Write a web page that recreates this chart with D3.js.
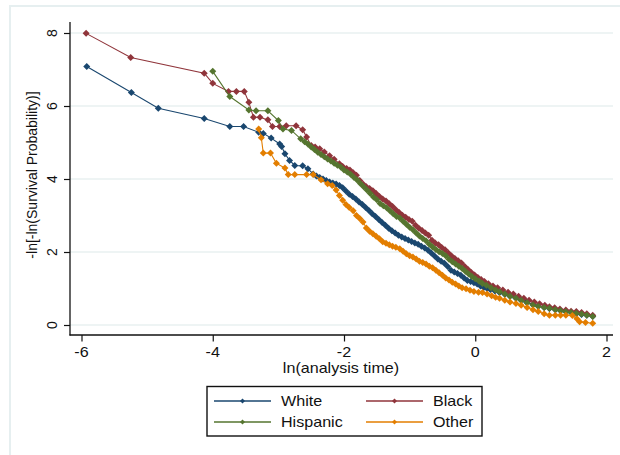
<!DOCTYPE html>
<html><head><meta charset="utf-8">
<script src="https://cdn.jsdelivr.net/npm/d3@7"></script>
<style>body{margin:0;background:#fff}svg{display:block}text{font-family:"Liberation Sans",Arial,sans-serif;fill:#111}</style>
</head><body><svg id="c" width="620" height="455"></svg>
<script>
const xTicks = [-6, -4, -2, 0, 2];
const yTicks = [0, 2, 4, 6, 8];
const xTitle = "ln(analysis time)";
const yTitle = "-ln[-ln(Survival Probability)]";
const seriesNames = ["White", "Black", "Hispanic", "Other"];

const white = [[-5.92,7.08],[-5.24,6.37],[-4.83,5.94],[-4.13,5.66],[-3.74,5.44],[-3.53,5.44],[-3.30,5.28],[-3.23,5.25],[-3.11,5.12],[-2.98,4.96],[-2.95,4.89],[-2.90,4.69],[-2.83,4.51],[-2.75,4.37],[-2.63,4.36],[-2.55,4.28],
[-2.47,4.14],[-2.42,4.08],[-2.37,4.04],[-2.32,4.00],[-2.27,3.96],[-2.22,3.92],[-2.17,3.89],[-2.12,3.86],[-2.07,3.82],[-2.02,3.76],[-1.97,3.67],[-1.92,3.58],[-1.87,3.52],[-1.82,3.45],[-1.77,3.37],[-1.72,3.30],[-1.67,3.22],[-1.62,3.14],[-1.57,3.05],[-1.52,2.97],[-1.47,2.89],[-1.42,2.81],[-1.37,2.73],[-1.32,2.65],[-1.27,2.58],[-1.22,2.52],[-1.17,2.46],[-1.12,2.41],[-1.07,2.37],[-1.02,2.33],[-0.97,2.29],[-0.92,2.25],[-0.87,2.21],[-0.82,2.16],[-0.77,2.11],[-0.72,2.05],[-0.67,1.97],[-0.62,1.89],[-0.57,1.81],[-0.52,1.75],[-0.47,1.69],[-0.42,1.60],[-0.37,1.50],[-0.32,1.45],[-0.27,1.41],[-0.22,1.36],[-0.17,1.29],[-0.12,1.22],[-0.07,1.19],[-0.02,1.16],[0.03,1.12],[0.08,1.07],[0.13,1.03],[0.18,1.00],[0.23,0.97],[0.30,0.93],[0.37,0.89],[0.45,0.84],[0.53,0.79],[0.62,0.73],[0.70,0.68],[0.78,0.63],[0.88,0.56],[0.96,0.52],[1.05,0.48],[1.13,0.45],[1.22,0.42],[1.30,0.39],[1.38,0.36],[1.46,0.34],[1.54,0.31],[1.62,0.29],[1.70,0.27],[1.79,0.24]];

const black = [[-5.93,7.99],[-5.25,7.33],[-4.13,6.90],[-4.00,6.62],[-3.76,6.40],[-3.64,6.40],[-3.52,6.40],[-3.45,6.10],[-3.38,5.69],[-3.28,5.69],[-3.16,5.62],[-3.09,5.44],[-2.98,5.44],[-2.88,5.46],[-2.73,5.46],[-2.63,5.35],
[-2.57,5.15],[-2.50,4.92],[-2.44,4.88],[-2.37,4.83],[-2.30,4.74],[-2.22,4.64],[-2.15,4.54],[-2.07,4.42],[-2.02,4.34],[-1.96,4.29],[-1.91,4.25],[-1.86,4.17],[-1.81,4.10],[-1.76,3.96],[-1.71,3.86],[-1.66,3.79],[-1.61,3.74],[-1.56,3.68],[-1.51,3.60],[-1.46,3.52],[-1.41,3.45],[-1.36,3.40],[-1.31,3.32],[-1.26,3.25],[-1.21,3.16],[-1.16,3.08],[-1.11,3.01],[-1.06,2.95],[-1.01,2.89],[-0.96,2.84],[-0.91,2.73],[-0.86,2.65],[-0.81,2.59],[-0.76,2.52],[-0.71,2.46],[-0.66,2.32],[-0.61,2.25],[-0.56,2.20],[-0.51,2.12],[-0.46,2.06],[-0.41,1.97],[-0.36,1.89],[-0.31,1.82],[-0.26,1.76],[-0.21,1.70],[-0.16,1.60],[-0.11,1.52],[-0.06,1.44],[-0.01,1.37],[0.04,1.30],[0.09,1.25],[0.14,1.19],[0.20,1.13],[0.27,1.07],[0.34,1.02],[0.42,0.96],[0.50,0.90],[0.58,0.85],[0.66,0.79],[0.74,0.73],[0.82,0.68],[0.90,0.63],[0.98,0.58],[1.06,0.54],[1.13,0.50],[1.21,0.47],[1.29,0.44],[1.38,0.41],[1.46,0.38],[1.54,0.37],[1.62,0.34],[1.70,0.31],[1.79,0.27]];

const hispanic = [[-4.00,6.95],[-3.74,6.26],[-3.45,5.89],[-3.34,5.87],[-3.16,5.87],[-3.00,5.60],[-2.93,5.37],[-2.80,5.33],
[-2.66,5.10],[-2.60,5.02],[-2.55,4.96],[-2.50,4.88],[-2.45,4.81],[-2.40,4.73],[-2.35,4.67],[-2.30,4.61],[-2.25,4.55],[-2.20,4.49],[-2.15,4.43],[-2.10,4.38],[-2.05,4.33],[-2.00,4.25],[-1.95,4.19],[-1.90,4.13],[-1.85,4.05],[-1.80,3.97],[-1.75,3.88],[-1.70,3.79],[-1.65,3.70],[-1.60,3.60],[-1.55,3.51],[-1.50,3.43],[-1.45,3.33],[-1.40,3.27],[-1.35,3.21],[-1.30,3.13],[-1.25,3.05],[-1.20,2.97],[-1.15,2.93],[-1.10,2.84],[-1.05,2.76],[-1.00,2.68],[-0.95,2.61],[-0.90,2.52],[-0.85,2.44],[-0.80,2.37],[-0.75,2.31],[-0.70,2.21],[-0.65,2.14],[-0.60,2.07],[-0.55,2.01],[-0.50,1.96],[-0.45,1.90],[-0.40,1.80],[-0.35,1.73],[-0.30,1.67],[-0.25,1.61],[-0.20,1.55],[-0.15,1.47],[-0.10,1.40],[-0.05,1.33],[0.00,1.27],[0.06,1.20],[0.11,1.14],[0.17,1.09],[0.24,1.02],[0.31,0.96],[0.37,0.91],[0.45,0.85],[0.53,0.79],[0.62,0.73],[0.70,0.67],[0.79,0.61],[0.88,0.55],[0.96,0.51],[1.05,0.48],[1.13,0.46],[1.22,0.42],[1.30,0.39],[1.38,0.36],[1.46,0.34],[1.54,0.32],[1.62,0.30],[1.70,0.27],[1.79,0.23]];

const other = [[-3.30,5.37],[-3.26,5.13],[-3.23,4.71],[-3.12,4.71],[-3.03,4.43],[-2.90,4.30],[-2.85,4.12],[-2.75,4.12],[-2.57,4.12],[-2.47,4.12],[-2.35,3.98],[-2.25,3.87],[-2.18,3.82],[-2.12,3.70],[-2.07,3.55],[-2.02,3.42],[-1.97,3.30],[-1.92,3.22],[-1.86,3.13],[-1.81,3.00],[-1.76,2.92],[-1.71,2.82],[-1.66,2.66],[-1.61,2.57],[-1.56,2.50],[-1.51,2.43],[-1.46,2.36],[-1.41,2.28],[-1.36,2.24],[-1.31,2.20],[-1.26,2.16],[-1.21,2.13],[-1.15,2.09],[-1.10,2.02],[-1.05,1.95],[-1.00,1.90],[-0.95,1.86],[-0.90,1.81],[-0.85,1.75],[-0.80,1.71],[-0.75,1.67],[-0.70,1.61],[-0.65,1.57],[-0.60,1.50],[-0.55,1.43],[-0.50,1.36],[-0.45,1.29],[-0.40,1.23],[-0.35,1.17],[-0.30,1.12],[-0.25,1.07],[-0.20,1.02],[-0.14,0.99],[-0.08,0.95],[-0.02,0.92],[0.05,0.90],[0.11,0.89],[0.18,0.85],[0.25,0.80],[0.31,0.76],[0.37,0.73],[0.45,0.68],[0.53,0.63],[0.62,0.59],[0.70,0.54],[0.79,0.48],[0.88,0.42],[0.96,0.37],[1.05,0.31],[1.13,0.27],[1.22,0.27],[1.30,0.27],[1.38,0.27],[1.48,0.26],[1.55,0.17],[1.59,0.09],[1.68,0.07],[1.79,0.05]];

const seriesData = [white, black, hispanic, other];
const colors = ["#1a476f", "#90353b", "#55752f", "#e37e00"];

const svg = d3.select("#c");
svg.append("rect").attr("x",0).attr("y",0).attr("width",620).attr("height",455).attr("fill","#fff");
svg.append("line").attr("x1",9).attr("x2",620).attr("y1",6).attr("y2",6).attr("stroke","#e6eff0").attr("stroke-width",2);
svg.append("line").attr("x1",10).attr("x2",10).attr("y1",5).attr("y2",455).attr("stroke","#e6eff0").attr("stroke-width",2);

const x = d3.scaleLinear().domain([-6, 2]).range([81.5, 606.5]);
const y = d3.scaleLinear().domain([0, 8]).range([325, 33]);
const pLeft = 70, pRight = 613, pTop = 22, pBottom = 335;
const SX = 1.15;

svg.append("g").selectAll("line").data(yTicks).join("line")
  .attr("x1", pLeft).attr("x2", pRight).attr("y1", d => y(d)).attr("y2", d => y(d))
  .attr("stroke", "#e8f0f1").attr("stroke-width", 1.5);

const yAxis = d3.axisLeft(y).tickValues(yTicks).tickSize(6).tickFormat("");
const gy = svg.append("g").attr("transform", `translate(${pLeft},0)`).call(yAxis);
gy.select(".domain").remove();
gy.selectAll(".tick line").attr("stroke", "#111").attr("stroke-width", 1.2);
svg.append("line").attr("x1", pLeft).attr("x2", pLeft).attr("y1", pTop).attr("y2", pBottom + 0.5).attr("stroke", "#111").attr("stroke-width", 1.3);

const xAxis = d3.axisBottom(x).tickValues(xTicks).tickSize(6.5).tickFormat("");
const gx = svg.append("g").attr("transform", `translate(0,${pBottom})`).call(xAxis);
gx.select(".domain").remove();
gx.selectAll(".tick line").attr("stroke", "#111").attr("stroke-width", 1.2);
svg.append("line").attr("x1", pLeft - 0.5).attr("x2", pRight).attr("y1", pBottom).attr("y2", pBottom).attr("stroke", "#111").attr("stroke-width", 1.3);

xTicks.forEach(t => {
  svg.append("text").attr("transform", `translate(${x(t)},357) scale(${SX},1)`)
    .attr("text-anchor", "middle").attr("font-size", 14).text(t < 0 ? "-" + Math.abs(t) : String(t));
});
yTicks.forEach(t => {
  svg.append("text").attr("transform", `translate(57,${y(t)}) rotate(-90)`)
    .attr("text-anchor", "middle").attr("font-size", 14).text(String(t));
});
svg.append("text").attr("transform", `translate(${x(-2) - 3},373) scale(${SX},1)`)
  .attr("text-anchor", "middle").attr("font-size", 14).text(xTitle);
svg.append("text").attr("transform", `translate(37,175) rotate(-90)`)
  .attr("text-anchor", "middle").attr("font-size", 14).text(yTitle);

const r = 3.5;
const diamond = `M0,${-r}L${r},0L0,${r}L${-r},0Z`;
const line = d3.line().x(d => x(d[0])).y(d => y(d[1]));
seriesData.forEach((data, i) => {
  const g = svg.append("g");
  g.append("path").attr("d", line(data)).attr("fill", "none").attr("stroke", colors[i]).attr("stroke-width", 1.1);
  g.selectAll("path.m").data(data).join("path").attr("class", "m")
    .attr("d", diamond).attr("transform", d => `translate(${x(d[0])},${y(d[1])})`)
    .attr("fill", colors[i]);
});

const lg = svg.append("g");
lg.append("rect").attr("x", 207).attr("y", 386.5).attr("width", 275).attr("height", 49.5)
  .attr("fill", "#fff").attr("stroke", "#111").attr("stroke-width", 1.4);
const lpos = [[214, 401], [366, 401], [214, 422], [366, 422]];
seriesNames.forEach((name, i) => {
  const [lx, ly] = lpos[i];
  lg.append("line").attr("x1", lx).attr("x2", lx + 57).attr("y1", ly).attr("y2", ly).attr("stroke", colors[i]).attr("stroke-width", 1.3);
  lg.append("path").attr("d", `M0,-2.5L2.5,0L0,2.5L-2.5,0Z`).attr("transform", `translate(${lx + 28.5},${ly})`).attr("fill", colors[i]);
  lg.append("text").attr("transform", `translate(${lx + 67},${ly + 5}) scale(${SX},1)`)
    .attr("font-size", 14).text(name);
});
</script></body></html>
